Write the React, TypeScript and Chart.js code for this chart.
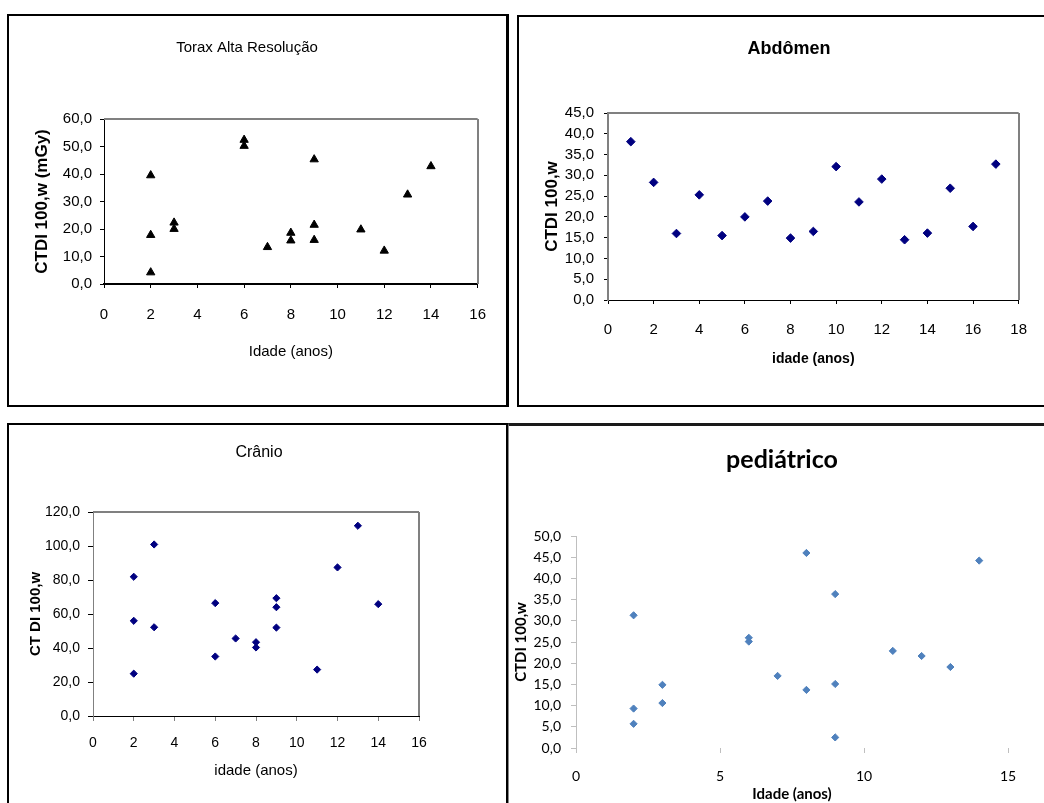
import React, { useEffect, useRef } from 'react';
import { Chart, registerables } from 'chart.js';

Chart.register(...registerables);

// ---------- DATA ----------
const toraxAge = [2, 2, 2, 3, 3, 6, 6, 7, 8, 8, 9, 9, 9, 11, 12, 13, 14];
const toraxCTDI = [39.5, 17.8, 4.2, 22.3, 20.0, 52.4, 50.2, 13.4, 18.6, 15.8, 45.3, 21.5, 16.0, 19.8, 12.1, 32.5, 42.8];

const abdomenAge = [1, 2, 3, 4, 5, 6, 7, 8, 9, 10, 11, 12, 13, 14, 15, 16, 17];
const abdomenCTDI = [38.1, 28.3, 16.0, 25.3, 15.5, 20.0, 23.8, 14.9, 16.5, 32.1, 23.6, 29.1, 14.5, 16.1, 26.9, 17.7, 32.7];

const cranioAge = [2, 2, 2, 3, 3, 6, 6, 7, 8, 8, 9, 9, 9, 11, 12, 13, 14];
const cranioCTDI = [81.9, 56.0, 24.9, 100.9, 52.2, 66.4, 35.0, 45.6, 43.4, 40.3, 69.3, 64.0, 52.0, 27.3, 87.4, 111.9, 65.8];

const pedAge = [2, 2, 2, 3, 3, 6, 6, 7, 8, 8, 9, 9, 9, 11, 12, 13, 14];
const pedCTDI = [31.3, 9.3, 5.7, 14.9, 10.6, 26.0, 25.1, 17.0, 46.0, 13.7, 36.3, 15.1, 2.5, 22.9, 21.7, 19.1, 44.2];

// axis ranges: [min, max, step]
const toraxX = [0, 16, 2];
const toraxY = [0, 60, 10];
const abdomenX = [0, 18, 2];
const abdomenY = [0, 45, 5];
const cranioX = [0, 16, 2];
const cranioY = [0, 120, 20];
const pedX = [0, 15, 5];
const pedY = [0, 50, 5];

// texts
const titles = ['Torax Alta Resolução', 'Abdômen', 'Crânio', 'pediátrico'];
const yTitles = ['CTDI 100,w (mGy)', 'CTDI 100,w', 'CT DI 100,w', 'CTDI 100,w'];
const xTitles = ['Idade (anos)', 'idade (anos)', 'idade (anos)', 'Idade (anos)'];

// ---------- STYLE ----------
const SANS = "'Liberation Sans', Arial, sans-serif";
const CAL = "Lato, 'Open Sans', sans-serif";

const fmtComma = (v: any) => Number(v).toFixed(1).replace('.', ',');
const fmtInt = (v: any) => String(Math.round(Number(v)));

const framePlugin = {
  id: 'plotFrame',
  beforeDatasetsDraw(chart: any, _args: any, opts: any) {
    const sides = (opts && opts.sides) || [];
    const a = chart.chartArea;
    const ctx = chart.ctx;
    ctx.save();
    for (const s of sides) {
      ctx.strokeStyle = s.color;
      ctx.lineWidth = s.width;
      const off = s.width % 2 ? 0.5 : 0;
      ctx.beginPath();
      if (s.side === 'top') {
        const y = Math.round(a.top) + off;
        ctx.moveTo(a.left, y);
        ctx.lineTo(a.right, y);
      } else if (s.side === 'right') {
        const x = Math.round(a.right) - off;
        ctx.moveTo(x, a.top);
        ctx.lineTo(x, a.bottom);
      }
      ctx.stroke();
    }
    ctx.restore();
  },
};

const titlePlugin = {
  id: 'panelTitle',
  afterDraw(chart: any, _args: any, opts: any) {
    if (!opts || !opts.text) return;
    const ctx = chart.ctx;
    ctx.save();
    ctx.font = `${opts.weight} ${opts.size}px ${opts.family}`;
    ctx.fillStyle = opts.color;
    ctx.textAlign = 'center';
    ctx.textBaseline = 'middle';
    ctx.fillText(opts.text, opts.x, opts.y);
    ctx.restore();
  },
};

type Font = { family: string; size: number; weight?: string };

interface Spec {
  canvas: number[]; // x, y, w, h (page)
  area: number[]; // L, T, R, B (page)
  title: string;
  titlePos: number[];
  titleFont: Font;
  yTitle: string;
  yTitleX: number;
  yTitleFont: Font;
  xTitle: string;
  xTitleY: number;
  xTitleFont: Font;
  xTickFont: Font;
  yTickFont: Font;
  xLabelY: number;
  yTickPad: number;
  tickLen: number;
  xRange: number[];
  yRange: number[];
  xs: number[];
  ys: number[];
  point: any;
  yBorder: any;
  xBorder: any;
  xTickColor: string;
  yTickColor: string;
  textColor: string;
  frame: any[];
}

function makeConfig(s: Spec): any {
  const [cx, cy, cw, ch] = s.canvas;
  const [L, T, R, B] = s.area;
  const lhY = s.yTitleFont.size * 1.2;
  const lhX = s.xTitleFont.size * 1.2;
  const lhXT = s.xTickFont.size * 1.2;
  const pts = s.xs.map((x, i) => ({ x, y: s.ys[i] }));
  return {
    type: 'scatter',
    data: { datasets: [{ data: pts, ...s.point }] },
    options: {
      responsive: false,
      maintainAspectRatio: false,
      animation: false,
      devicePixelRatio: 1,
      events: [],
      layout: {
        autoPadding: false,
        padding: { left: 0, right: cx + cw - R, top: T - cy, bottom: 0 },
      },
      plugins: {
        legend: { display: false },
        tooltip: { enabled: false },
        title: { display: false },
        panelTitle: {
          text: s.title,
          x: s.titlePos[0] - cx,
          y: s.titlePos[1] - cy,
          family: s.titleFont.family,
          size: s.titleFont.size,
          weight: s.titleFont.weight || 'normal',
          color: s.textColor,
        },
        plotFrame: { sides: s.frame },
      },
      scales: {
        x: {
          type: 'linear',
          position: 'bottom',
          min: s.xRange[0],
          max: s.xRange[1],
          afterFit: (sc: any) => {
            sc.height = cy + ch - B;
          },
          ticks: {
            stepSize: s.xRange[2],
            font: { ...s.xTickFont, lineHeight: 1.2 },
            color: s.textColor,
            padding: s.xLabelY - B - s.tickLen - lhXT / 2,
            maxRotation: 0,
            minRotation: 0,
            autoSkip: false,
            callback: fmtInt,
          },
          grid: {
            display: true,
            drawOnChartArea: false,
            drawTicks: true,
            tickLength: s.tickLen,
            tickColor: s.xTickColor,
            tickWidth: 1,
          },
          border: s.xBorder,
          title: {
            display: true,
            text: s.xTitle,
            color: s.textColor,
            font: { ...s.xTitleFont, lineHeight: 1.2 },
            padding: { top: 0, bottom: cy + ch - lhX / 2 - s.xTitleY },
          },
        },
        y: {
          type: 'linear',
          position: 'left',
          min: s.yRange[0],
          max: s.yRange[1],
          afterFit: (sc: any) => {
            sc.width = L - cx;
          },
          ticks: {
            stepSize: s.yRange[2],
            font: { ...s.yTickFont, lineHeight: 1.2 },
            color: s.textColor,
            padding: s.yTickPad,
            autoSkip: false,
            callback: fmtComma,
          },
          grid: {
            display: true,
            drawOnChartArea: false,
            drawTicks: true,
            tickLength: s.tickLen,
            tickColor: s.yTickColor,
            tickWidth: 1,
          },
          border: s.yBorder,
          title: {
            display: true,
            text: s.yTitle,
            color: s.textColor,
            font: { ...s.yTitleFont, lineHeight: 1.2 },
            padding: { top: s.yTitleX - cx - lhY / 2, bottom: 0 },
          },
        },
      },
    },
    plugins: [framePlugin, titlePlugin],
  };
}

const GRAY = '#808080';

const specs: Spec[] = [
  {
    canvas: [10, 17, 494, 386],
    area: [104, 119, 478, 284],
    title: titles[0],
    titlePos: [247, 48],
    titleFont: { family: SANS, size: 15, weight: 'normal' },
    yTitle: yTitles[0],
    yTitleX: 42,
    yTitleFont: { family: SANS, size: 17, weight: 'bold' },
    xTitle: xTitles[0],
    xTitleY: 352,
    xTitleFont: { family: SANS, size: 15, weight: 'normal' },
    xTickFont: { family: SANS, size: 15, weight: 'normal' },
    yTickFont: { family: SANS, size: 15, weight: 'normal' },
    xLabelY: 315,
    yTickPad: 8,
    tickLen: 4,
    xRange: toraxX,
    yRange: toraxY,
    xs: toraxAge,
    ys: toraxCTDI,
    point: { pointStyle: 'triangle', pointRadius: 4.8, backgroundColor: '#000', borderColor: '#000', borderWidth: 1 },
    yBorder: { display: true, color: '#000', width: 1 },
    xBorder: { display: true, color: '#000', width: 2 },
    xTickColor: '#000',
    yTickColor: '#000',
    textColor: '#000',
    frame: [
      { side: 'top', color: GRAY, width: 2 },
      { side: 'right', color: GRAY, width: 2 },
    ],
  },
  {
    canvas: [520, 18, 524, 386],
    area: [608, 113, 1027, 300],
    title: titles[1],
    titlePos: [789, 49],
    titleFont: { family: SANS, size: 18, weight: 'bold' },
    yTitle: yTitles[1],
    yTitleX: 552,
    yTitleFont: { family: SANS, size: 17, weight: 'bold' },
    xTitle: xTitles[1],
    xTitleY: 359,
    xTitleFont: { family: SANS, size: 14, weight: 'bold' },
    xTickFont: { family: SANS, size: 15, weight: 'normal' },
    yTickFont: { family: SANS, size: 15, weight: 'normal' },
    xLabelY: 330,
    yTickPad: 10,
    tickLen: 4,
    xRange: abdomenX,
    yRange: abdomenY,
    xs: abdomenAge,
    ys: abdomenCTDI,
    point: { pointStyle: 'rectRot', pointRadius: 4.3, backgroundColor: '#000080', borderColor: '#000080', borderWidth: 1 },
    yBorder: { display: true, color: GRAY, width: 2 },
    xBorder: { display: true, color: '#000', width: 1 },
    xTickColor: '#000',
    yTickColor: '#000',
    textColor: '#000',
    frame: [
      { side: 'top', color: GRAY, width: 2 },
      { side: 'right', color: GRAY, width: 2 },
    ],
  },
  {
    canvas: [10, 426, 494, 377],
    area: [93, 512, 419, 716],
    title: titles[2],
    titlePos: [259, 453],
    titleFont: { family: SANS, size: 16, weight: 'normal' },
    yTitle: yTitles[2],
    yTitleX: 36,
    yTitleFont: { family: SANS, size: 15, weight: 'bold' },
    xTitle: xTitles[2],
    xTitleY: 771,
    xTitleFont: { family: SANS, size: 15, weight: 'normal' },
    xTickFont: { family: SANS, size: 14, weight: 'normal' },
    yTickFont: { family: SANS, size: 14, weight: 'normal' },
    xLabelY: 743,
    yTickPad: 8,
    tickLen: 5,
    xRange: cranioX,
    yRange: cranioY,
    xs: cranioAge,
    ys: cranioCTDI,
    point: { pointStyle: 'rectRot', pointRadius: 3.6, backgroundColor: '#000080', borderColor: '#000080', borderWidth: 1 },
    yBorder: { display: true, color: GRAY, width: 1 },
    xBorder: { display: true, color: '#000', width: 1 },
    xTickColor: GRAY,
    yTickColor: '#000',
    textColor: '#000',
    frame: [
      { side: 'top', color: GRAY, width: 2 },
      { side: 'right', color: GRAY, width: 2 },
    ],
  },
  {
    canvas: [510, 427, 534, 376],
    area: [576, 536, 1008, 748],
    title: titles[3],
    titlePos: [782, 460],
    titleFont: { family: CAL, size: 25, weight: 'bold' },
    yTitle: yTitles[3],
    yTitleX: 521,
    yTitleFont: { family: CAL, size: 15, weight: 'bold' },
    xTitle: xTitles[3],
    xTitleY: 794,
    xTitleFont: { family: CAL, size: 15, weight: 'bold' },
    xTickFont: { family: CAL, size: 14, weight: 'normal' },
    yTickFont: { family: CAL, size: 14, weight: 'normal' },
    xLabelY: 776,
    yTickPad: 10,
    tickLen: 5,
    xRange: pedX,
    yRange: pedY,
    xs: pedAge,
    ys: pedCTDI,
    point: { pointStyle: 'rectRot', pointRadius: 3.6, backgroundColor: '#4F81BD', borderColor: '#4F81BD', borderWidth: 1 },
    yBorder: { display: true, color: '#BFBFBF', width: 1 },
    xBorder: { display: false },
    xTickColor: '#BFBFBF',
    yTickColor: '#BFBFBF',
    textColor: '#000',
    frame: [],
  },
];

function ChartPanel({ spec }: { spec: Spec }) {
  const ref = useRef<HTMLCanvasElement | null>(null);
  useEffect(() => {
    if (!ref.current) return;
    const chart = new Chart(ref.current, makeConfig(spec));
    return () => chart.destroy();
  }, [spec]);
  const [x, y, w, h] = spec.canvas;
  return (
    <canvas
      ref={ref}
      width={w}
      height={h}
      style={{ position: 'absolute', left: x, top: y, width: w, height: h, display: 'block' }}
    />
  );
}

const boxes: React.CSSProperties[] = [
  { left: 7, top: 14, width: 502, height: 393, borderTop: '2px solid #000', borderLeft: '2px solid #000', borderRight: '3px solid #000', borderBottom: '2px solid #000' },
  { left: 517, top: 15, width: 540, height: 392, borderTop: '2px solid #000', borderLeft: '2px solid #000', borderBottom: '2px solid #000' },
  { left: 7, top: 423, width: 502, height: 400, borderTop: '2px solid #000', borderLeft: '2px solid #000', borderRight: '3px solid #000' },
  { left: 508, top: 423, width: 540, height: 400, borderTop: '3px solid #1a1a1a', borderLeft: '1px solid #888' },
];

export default function App() {
  return (
    <div
      style={{
        position: 'absolute',
        left: 0,
        top: 0,
        width: 1044,
        height: 803,
        overflow: 'hidden',
        background: '#fff',
      }}
    >
      {boxes.map((b, i) => (
        <div key={'b' + i} style={{ position: 'absolute', boxSizing: 'border-box', ...b }} />
      ))}
      {specs.map((s, i) => (
        <ChartPanel key={i} spec={s} />
      ))}
    </div>
  );
}
